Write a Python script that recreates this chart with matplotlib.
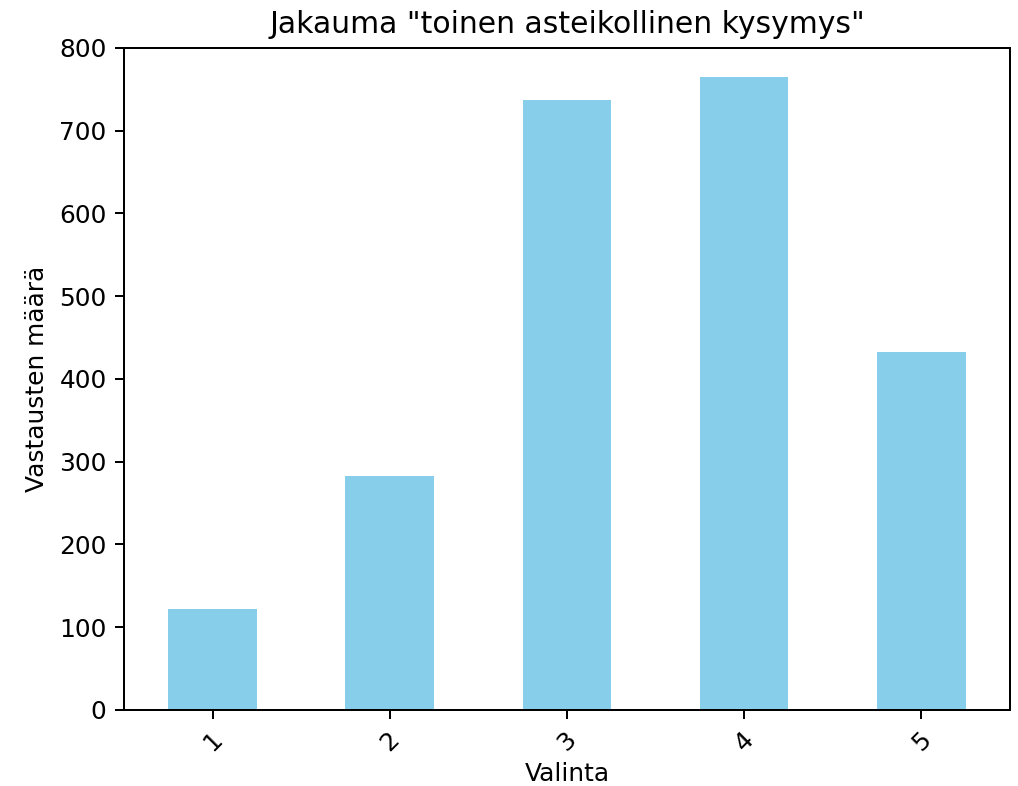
import pandas as pd
import matplotlib
matplotlib.use("Agg")
import matplotlib.pyplot as plt

# Answer distribution for the second scale question
choices = [1, 2, 3, 4, 5]
counts = [122, 283, 737, 765, 432]

dist = pd.Series(counts, index=choices)

dpi = 179
fig = plt.figure(figsize=(1018 / dpi, 786 / dpi), dpi=dpi)
ax = fig.add_axes([0.1218, 0.0967, 0.8703, 0.8425])
dist.plot(kind="bar", color="skyblue", ax=ax, rot=45)

ax.set_title('Jakauma "toinen asteikollinen kysymys"')
ax.set_xlabel("Valinta", labelpad=2.5)
ax.set_ylabel("Vastausten määrä")
ax.set_ylim(0, 800)

fig.savefig("out.png", dpi=dpi)
